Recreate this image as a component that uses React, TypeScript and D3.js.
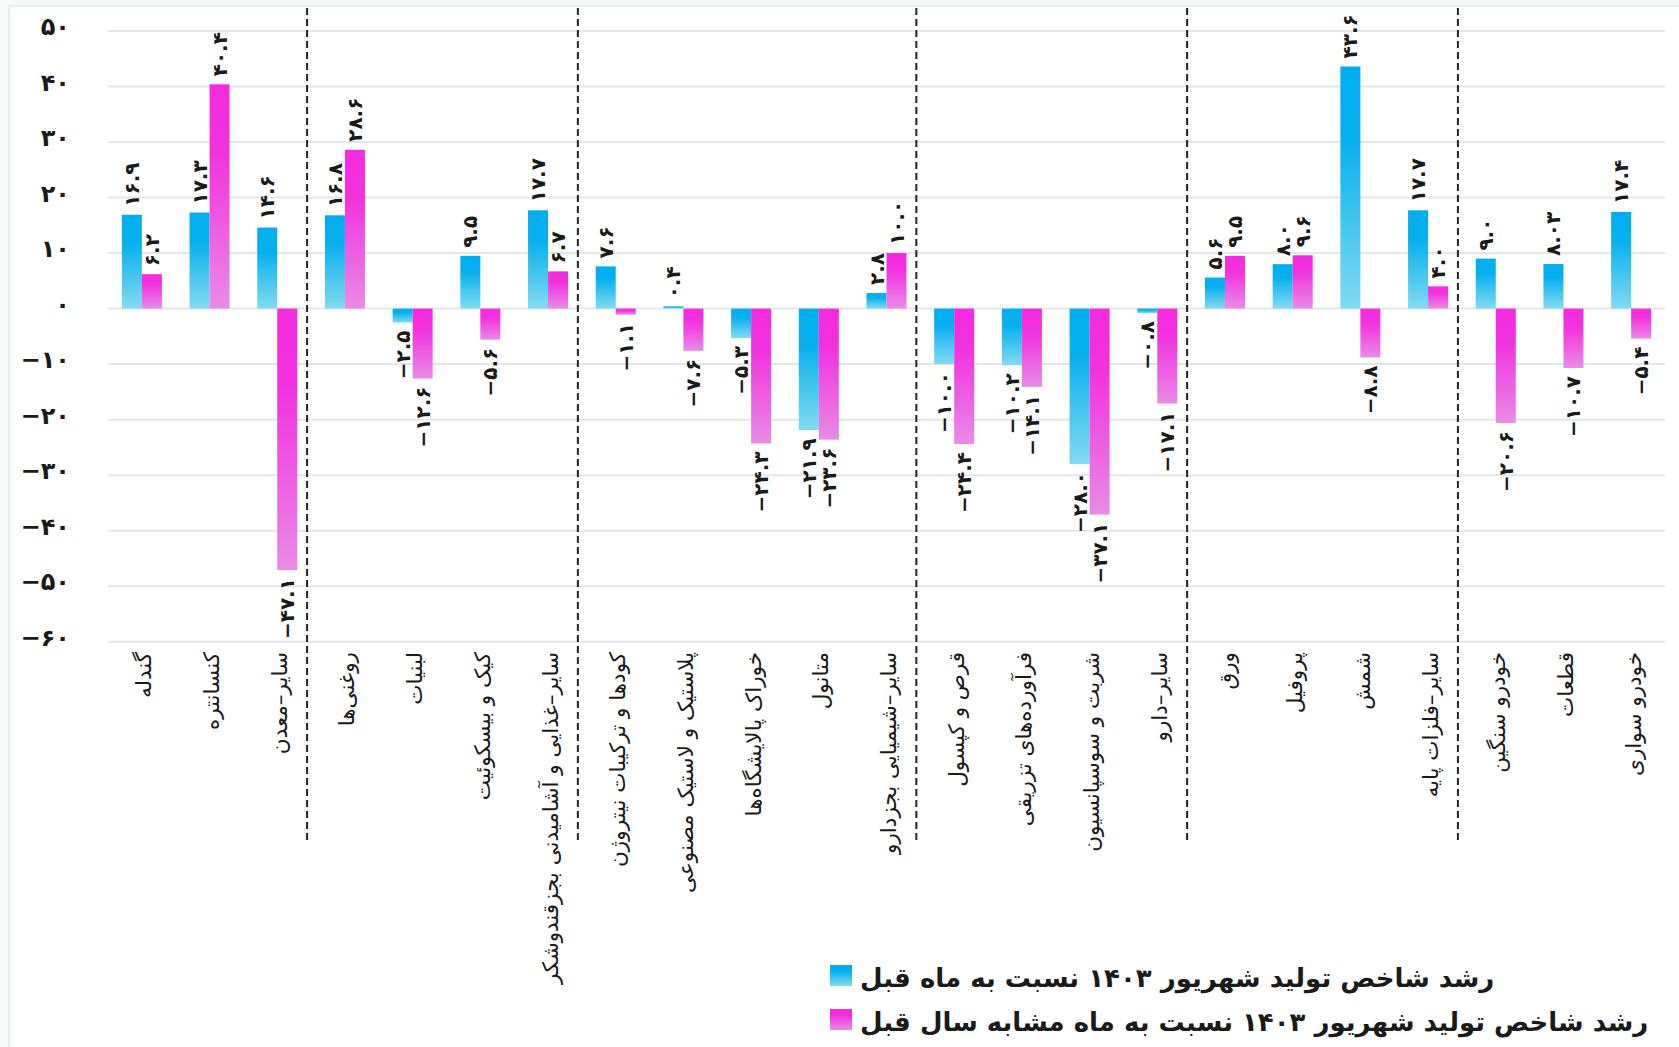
import React from "react";
import * as d3 from "d3";

const categories = [
  "گندله",
  "کنسانتره",
  "سایر–معدن",
  "روغنی‌ها",
  "لبنیات",
  "کیک و بیسکوئیت",
  "سایر–غذایی و آشامیدنی بجزقندوشکر",
  "کودها و ترکیبات نیتروژن",
  "پلاستیک و لاستیک مصنوعی",
  "خوراک پالایشگاه‌ها",
  "متانول",
  "سایر–شیمیایی بجزدارو",
  "قرص و کپسول",
  "فرآورده‌های تزریقی",
  "شربت و سوسپانسیون",
  "سایر–دارو",
  "ورق",
  "پروفیل",
  "شمش",
  "سایر–فلزات پایه",
  "خودرو سنگین",
  "قطعات",
  "خودرو سواری",
];

const monthlyGrowth = [
  16.9, 17.3, 14.6, 16.8, -2.5, 9.5, 17.7, 7.6, 0.4, -5.3, -21.9, 2.8, -10.0,
  -10.2, -28.0, -0.8, 5.6, 8.0, 43.6, 17.7, 9.0, 8.03, 17.4,
];

const yearlyGrowth = [
  6.2, 40.4, -47.1, 28.6, -12.6, -5.6, 6.7, -1.1, -7.6, -24.3, -23.6, 10.0,
  -24.4, -14.1, -37.1, -17.1, 9.5, 9.6, -8.8, 4.0, -20.6, -10.7, -5.4,
];

const groupStarts = [
  "روغنی‌ها",
  "کودها و ترکیبات نیتروژن",
  "قرص و کپسول",
  "ورق",
  "خودرو سنگین",
];

const yTicks = [50, 40, 30, 20, 10, 0, -10, -20, -30, -40, -50, -60];

const seriesNames = [
  "رشد شاخص تولید شهریور ۱۴۰۳ نسبت به ماه قبل",
  "رشد شاخص تولید شهریور ۱۴۰۳ نسبت به ماه مشابه سال قبل",
];

const W = 1679;
const H = 1047;
const FONT = "'DejaVu Sans', sans-serif";

const faDigits = "۰۱۲۳۴۵۶۷۸۹";
const toFa = (s: string) => s.replace(/\d/g, (d) => faDigits[+d]);

const fmtValue = (v: number) => {
  let s = String(Math.abs(v));
  if (!s.includes(".")) s += ".0";
  return (v < 0 ? "−" : "") + toFa(s);
};
const fmtTick = (v: number) => (v < 0 ? "−" : "") + toFa(String(Math.abs(v)));

export default function App() {
  const x0 = d3
    .scaleBand<string>()
    .domain(categories)
    .range([108, 1665])
    .paddingInner(0)
    .paddingOuter(0);
  const bw = x0.bandwidth();
  const x1 = d3
    .scaleBand<string>()
    .domain(["m", "y"])
    .range([bw / 2 - 20, bw / 2 + 20])
    .padding(0);
  const y = d3.scaleLinear().domain([-60, 50]).range([641.7, 31]);

  const series = [
    { key: "m", values: monthlyGrowth, grad: "url(#gBlue)" },
    { key: "y", values: yearlyGrowth, grad: "url(#gPink)" },
  ];

  return (
    <svg
      width={W}
      height={H}
      style={{ position: "absolute", left: 0, top: 0, display: "block" }}
    >
      <defs>
        <linearGradient id="gBlue" x1="0" y1="0" x2="0" y2="1">
          <stop offset="0" stopColor="#00AEEF" />
          <stop offset="0.3" stopColor="#06B0EE" />
          <stop offset="1" stopColor="#82DBF1" />
        </linearGradient>
        <linearGradient id="gPink" x1="0" y1="0" x2="0" y2="1">
          <stop offset="0" stopColor="#F52ADF" />
          <stop offset="0.3" stopColor="#F232DF" />
          <stop offset="1" stopColor="#E98BE6" />
        </linearGradient>
      </defs>
      <rect x={0} y={0} width={W} height={H} fill="#F7F8FA" />
      <rect
        x={9}
        y={6}
        width={W}
        height={H}
        fill="#FFFFFF"
        stroke="#E4E8EF"
        strokeWidth={1.5}
      />

      {/* gridlines */}
      {yTicks.map((t) => (
        <line
          key={"g" + t}
          x1={108}
          x2={1665}
          y1={y(t)}
          y2={y(t)}
          stroke="#E3E7EC"
          strokeWidth={2}
        />
      ))}

      {/* y tick labels */}
      {yTicks.map((t) => (
        <text
          key={"t" + t}
          x={70}
          y={y(t) - 4}
          textAnchor="end"
          dominantBaseline="central"
          direction="ltr"
          fontFamily={FONT}
          fontWeight="bold"
          fontSize={24}
          fill="#1A1A1A"
        >
          {fmtTick(t)}
        </text>
      ))}

      {/* separators */}
      {groupStarts.map((c) => (
        <line
          key={"s" + c}
          x1={(x0(c) as number) - 4}
          x2={(x0(c) as number) - 4}
          y1={8}
          y2={840}
          stroke="#222"
          strokeWidth={2}
          strokeDasharray="7,4"
        />
      ))}

      {/* bars */}
      {categories.map((c, i) => (
        <g key={"b" + i} transform={`translate(${x0(c)},0)`}>
          {series.map((s) => {
            const v = s.values[i];
            const top = y(Math.max(0, v));
            const h = Math.abs(y(v) - y(0));
            return (
              <rect
                key={s.key}
                x={x1(s.key)}
                y={top}
                width={x1.bandwidth()}
                height={h}
                fill={s.grad}
              />
            );
          })}
        </g>
      ))}

      {/* value labels */}
      {categories.map((c, i) => (
        <g key={"l" + i} transform={`translate(${x0(c)},0)`}>
          {series.map((s) => {
            const v = s.values[i];
            const cx = (x1(s.key) as number) + x1.bandwidth() / 2;
            const ly = v >= 0 ? y(v) - 8 : y(v) + 8;
            return (
              <text
                key={s.key}
                transform={`translate(${cx},${ly}) rotate(-90)`}
                textAnchor={v >= 0 ? "start" : "end"}
                dominantBaseline="central"
                direction="ltr"
                fontFamily={FONT}
                fontWeight="bold"
                fontSize={20}
                fill="#1A1A1A"
              >
                {fmtValue(v)}
              </text>
            );
          })}
        </g>
      ))}

      {/* category labels */}
      {categories.map((c) => (
        <text
          key={"c" + c}
          transform={`translate(${(x0(c) as number) + bw / 2 + 2},652) rotate(-90)`}
          textAnchor="start"
          direction="rtl"
          dominantBaseline="central"
          fontFamily={FONT}
          fontSize={21.5}
          fill="#1A1A1A"
        >
          {c}
        </text>
      ))}

      {/* legend */}
      {seriesNames.map((n, i) => (
        <g key={"lg" + i} transform={`translate(830,${965 + i * 44})`}>
          <rect
            x={0}
            y={0}
            width={22}
            height={21}
            fill={series[i].grad}
          />
          <text
            x={30}
            y={22}
            textAnchor="end"
            direction="rtl"
            fontFamily={FONT}
            fontWeight="bold"
            fontSize={26}
            fill="#1A1A1A"
          >
            {n}
          </text>
        </g>
      ))}
    </svg>
  );
}
